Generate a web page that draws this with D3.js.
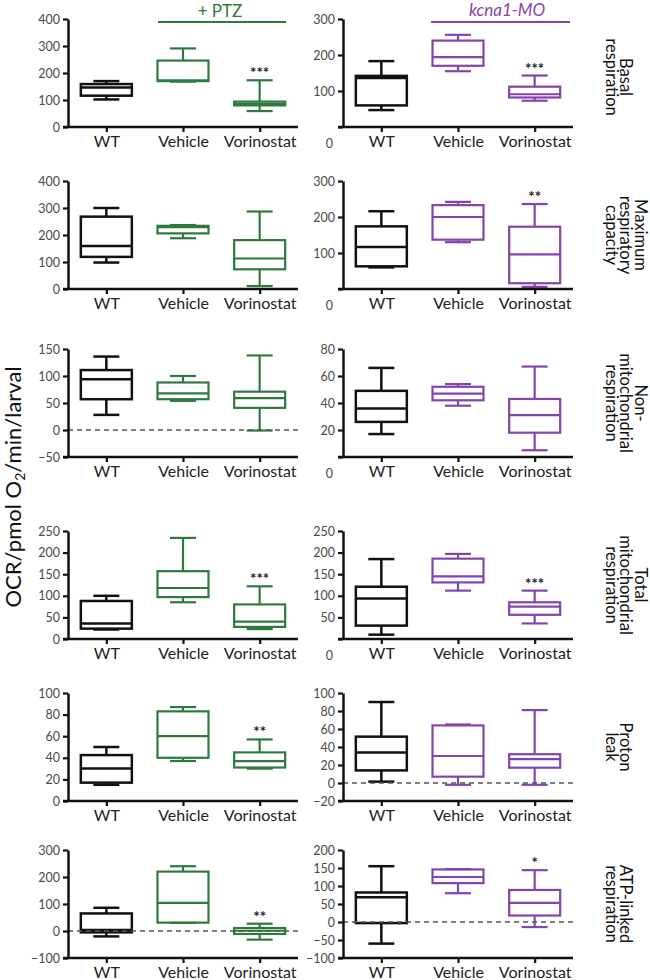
<!DOCTYPE html>
<html><head><meta charset="utf-8">
<script src="https://cdn.jsdelivr.net/npm/d3@7"></script>
<style>body{margin:0;background:#fff;} svg{display:block;}</style>
</head><body>
<script>
// ---------- DATA ----------
const categories = ["WT", "Vehicle", "Vorinostat"];
const rowLabels = [
  ["Basal", "respiration"],
  ["Maximum", "respiratory", "capacity"],
  ["Non-", "mitochondrial", "respiration"],
  ["Total", "mitochondrial", "respiration"],
  ["Proton", "leak"],
  ["ATP-linked", "respiration"]
];
// box stats per category: [min, q1, median, q3, max]
const ptzStats = [
  [[102, 116, 146, 159, 170], [168, 170, 173, 246, 291], [59, 80, 86, 94, 173]],
  [[98, 119, 159, 268, 300], [188, 206, 229, 234, 237], [11, 73, 113, 181, 287]],
  [[28, 57, 94, 111, 136], [54, 57, 68, 88, 100], [-1, 41, 59, 71, 138]],
  [[22, 24, 36, 88, 100], [85, 97, 118, 157, 234], [23, 28, 40, 80, 122]],
  [[15, 17, 30, 42.5, 50], [37, 40, 60, 83, 87], [30, 31, 37, 45, 57]],
  [[-20, -5, 4, 65, 86], [30, 31, 104, 220, 240], [-32, -11, 1, 11, 27]]
];
const moStats = [
  [[47, 60, 136, 142, 183], [155, 170, 194, 240, 256], [73, 82, 91, 112, 143]],
  [[60, 63, 117, 174, 216], [130, 137, 200, 233, 242], [6, 16, 96, 173, 236]],
  [[17, 26, 36, 49, 66], [38, 42, 47, 52, 54], [5, 18, 31, 43, 67]],
  [[10, 31, 94, 121, 185], [112, 131, 145, 186, 197], [36, 56, 75, 85, 112]],
  [[1.5, 14, 34, 51.5, 90], [-2, 7, 30, 64, 65], [-2, 17, 26.5, 32, 81]],
  [[-60, -3, 69, 82, 155], [80, 108, 125, 146, 147], [-14, 18, 53, 89, 144]]
];
const ptzDomains = [[0, 400], [0, 400], [-50, 150], [0, 250], [0, 100], [-100, 300]];
const moDomains = [[0, 300], [0, 300], [0, 80], [0, 250], [-20, 100], [-100, 200]];
const ptzTicks = [
  [0, 100, 200, 300, 400], [0, 100, 200, 300, 400], [-50, 0, 50, 100, 150],
  [0, 50, 100, 150, 200, 250], [0, 20, 40, 60, 80, 100], [-100, 0, 100, 200, 300]
];
const moTicks = [
  [0, 100, 200, 300], [0, 100, 200, 300], [0, 20, 40, 60, 80],
  [0, 50, 100, 150, 200, 250], [-20, 0, 20, 40, 60, 80, 100], [-100, -50, 0, 50, 100, 150, 200]
];
const ptzStars = [["", "", "***"], ["", "", ""], ["", "", ""], ["", "", "***"], ["", "", "**"], ["", "", "**"]];
const moStars = [["", "", "***"], ["", "", "**"], ["", "", ""], ["", "", "***"], ["", "", ""], ["", "", "*"]];
const groupTitles = ["+ PTZ", "kcna1-MO"];
const yLabelMain = "OCR/pmol O";
const yLabelSub = "2";
const yLabelEnd = "/min/larval";

// ---------- LAYOUT / STYLE ----------
const GREEN = "#2e7a3c", PURPLE = "#8445ab", BLACK = "#111";
const panelX = [68, 343];
const panelW = 230;
const plotH = 108;
const rowTop = [19, 181, 349, 531, 693, 850];
const boxW = 51, capW = 26;

const svg = d3.select("body").append("svg")
  .attr("width", 650).attr("height", 980)
  .style("font-family", "Lato, 'Open Sans', sans-serif");

function drawPanel(g, stats, domain, ticks, stars, color, isRight) {
  const x = d3.scalePoint().domain(categories).range([0, panelW]).padding(0.5);
  const y = d3.scaleLinear().domain(domain).range([plotH, 0]);

  // boxes
  categories.forEach((c, i) => {
    const [mn, q1, md, q3, mx] = stats[i];
    const col = i === 0 ? BLACK : color;
    const sw = i === 0 ? 2.5 : 2.2;
    const cx = x(c);
    const bg = g.append("g").attr("stroke", col).attr("stroke-width", sw).attr("fill", "none");
    bg.append("line").attr("x1", cx).attr("x2", cx).attr("y1", y(mx)).attr("y2", y(q3));
    bg.append("line").attr("x1", cx).attr("x2", cx).attr("y1", y(q1)).attr("y2", y(mn));
    bg.append("line").attr("x1", cx - capW / 2).attr("x2", cx + capW / 2).attr("y1", y(mx)).attr("y2", y(mx));
    bg.append("line").attr("x1", cx - capW / 2).attr("x2", cx + capW / 2).attr("y1", y(mn)).attr("y2", y(mn));
    bg.append("rect").attr("x", cx - boxW / 2).attr("width", boxW)
      .attr("y", y(q3)).attr("height", Math.max(0.5, y(q1) - y(q3)));
    bg.append("line").attr("x1", cx - boxW / 2).attr("x2", cx + boxW / 2).attr("y1", y(md)).attr("y2", y(md));
    if (stars[i]) {
      g.append("text").attr("x", cx).attr("y", y(mx) - 2)
        .attr("text-anchor", "middle").attr("font-size", 15).attr("font-weight", "bold")
        .attr("fill", "#222").text(stars[i]);
    }
  });

  // zero dashed line
  if (domain[0] < 0) {
    g.append("line").attr("x1", 0).attr("x2", panelW).attr("y1", y(0)).attr("y2", y(0))
      .attr("stroke", "#555").attr("stroke-width", 1.6).attr("stroke-dasharray", "5,4");
  }

  // y axis
  const ya = g.append("g").call(
    d3.axisLeft(y).tickValues(ticks).tickSize(5).tickSizeOuter(0).tickPadding(3).tickFormat(d3.format("d"))
  );
  ya.select(".domain").attr("stroke", BLACK).attr("stroke-width", 2.5);
  ya.selectAll(".tick line").attr("stroke", BLACK).attr("stroke-width", 2.2);
  ya.selectAll(".tick text").attr("font-size", 12.5).attr("fill", "#4a4a4a")
    .attr("font-family", "Lato, sans-serif");
  if (isRight && domain[0] === 0) {
    ya.selectAll(".tick").filter(d => d === 0).select("text").attr("transform", "translate(-2,16)");
  }

  // x axis
  const xa = g.append("g").attr("transform", `translate(0,${plotH})`).call(
    d3.axisBottom(x).tickSize(5).tickSizeOuter(0).tickPadding(4)
  );
  xa.select(".domain").attr("stroke", BLACK).attr("stroke-width", 2.5)
    .attr("d", `M-5,0H${panelW}`);
  xa.selectAll(".tick line").attr("stroke", BLACK).attr("stroke-width", 2.2);
  xa.selectAll(".tick text").attr("font-size", 16).attr("fill", "#222")
    .attr("font-family", "Lato, sans-serif");
}

for (let r = 0; r < 6; r++) {
  const gl = svg.append("g").attr("transform", `translate(${panelX[0]},${rowTop[r]})`);
  drawPanel(gl, ptzStats[r], ptzDomains[r], ptzTicks[r], ptzStars[r], GREEN, false);
  const gr = svg.append("g").attr("transform", `translate(${panelX[1]},${rowTop[r]})`);
  drawPanel(gr, moStats[r], moDomains[r], moTicks[r], moStars[r], PURPLE, true);

  // row label, rotated 90deg clockwise
  const lines = rowLabels[r];
  const cy = rowTop[r] + plotH / 2 + (r === 0 ? 4 : 0);
  const lastX = 605.5, lh = 14.5;
  const t = svg.append("g").attr("transform", `translate(${lastX + lh * (lines.length - 1)},${cy}) rotate(90)`);
  lines.forEach((ln, i) => {
    t.append("text").attr("x", 0).attr("y", i * lh).attr("text-anchor", "middle")
      .attr("font-size", 16.5).attr("fill", "#111").text(ln);
  });
}

// group headers
svg.append("line").attr("x1", 158).attr("x2", 286).attr("y1", 22).attr("y2", 22)
  .attr("stroke", GREEN).attr("stroke-width", 2);
svg.append("text").attr("x", 220).attr("y", 16.5).attr("text-anchor", "middle")
  .attr("font-size", 17).attr("fill", GREEN).text(groupTitles[0]);
svg.append("line").attr("x1", 431).attr("x2", 570).attr("y1", 22).attr("y2", 22)
  .attr("stroke", PURPLE).attr("stroke-width", 2);
svg.append("text").attr("x", 507).attr("y", 15.5).attr("text-anchor", "middle")
  .attr("font-size", 17).attr("font-style", "italic").attr("fill", PURPLE).text(groupTitles[1]);

// y-axis label
const yl = svg.append("text").attr("transform", "translate(21,487) rotate(-90)")
  .attr("text-anchor", "middle").attr("font-size", 22).attr("fill", "#111");
yl.append("tspan").text(yLabelMain);
yl.append("tspan").attr("font-size", 14).attr("dy", 4).text(yLabelSub);
yl.append("tspan").attr("dy", -4).text(yLabelEnd);
</script>
</body></html>
